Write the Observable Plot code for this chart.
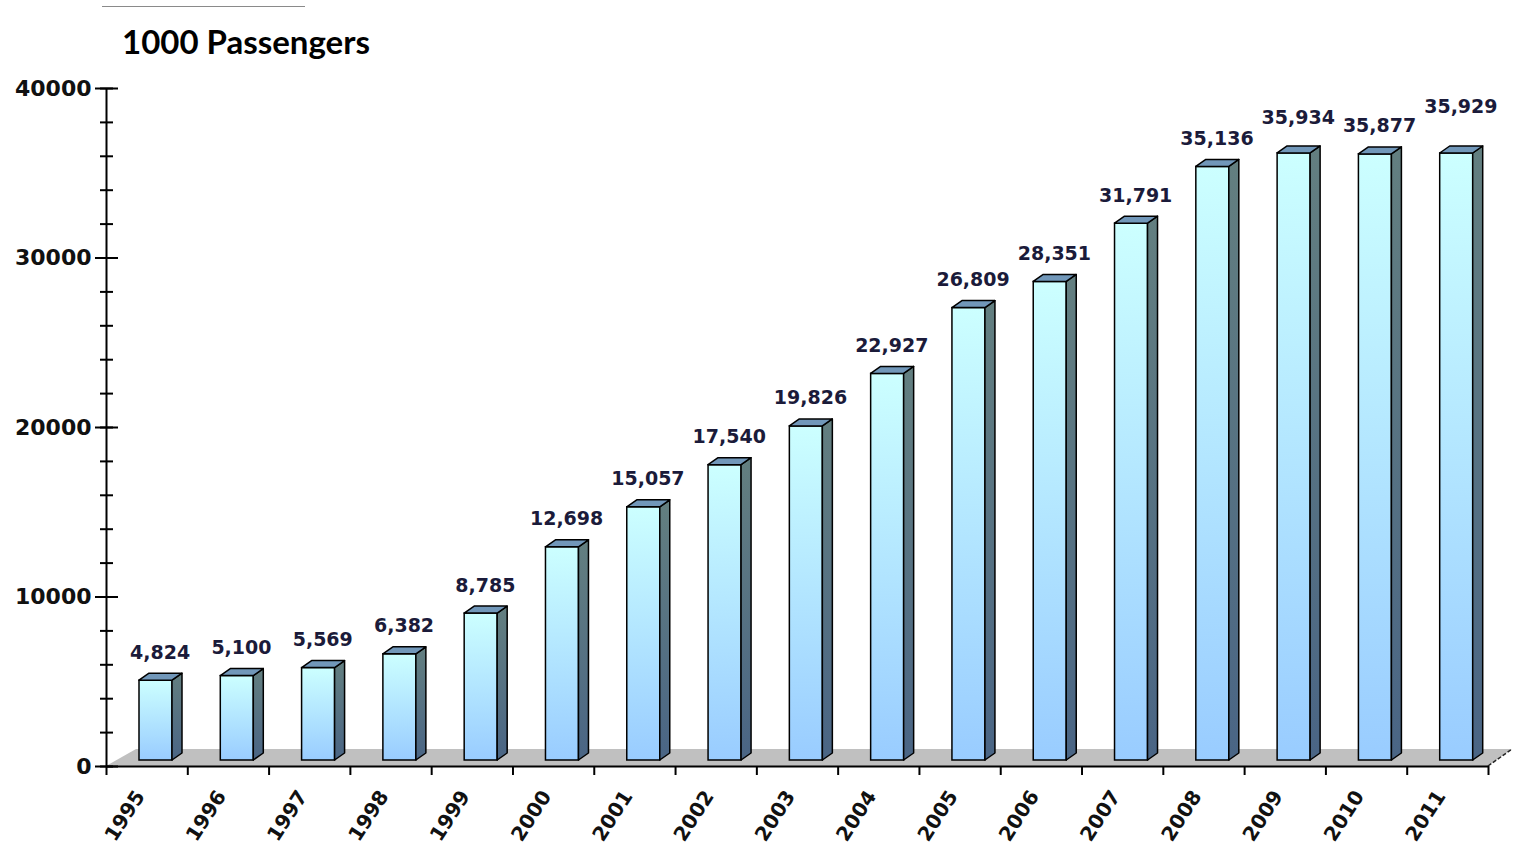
<!DOCTYPE html>
<html><head><meta charset="utf-8">
<script src="https://cdn.jsdelivr.net/npm/d3@7"></script>
<script src="https://cdn.jsdelivr.net/npm/@observablehq/plot@0.6"></script>
<style>
html,body{margin:0;padding:0;background:#fff;overflow:hidden;}
#hdr{position:relative;height:60px;width:1514px;}
#rule{position:absolute;left:102px;top:6px;width:203px;height:0;border-top:1.5px solid #8a8a8a;}
#title{position:absolute;left:122px;top:25px;font-family:Lato,sans-serif;font-weight:bold;font-size:33px;line-height:1;color:#000;white-space:nowrap;}
#chart svg text{font-family:"DejaVu Sans",sans-serif;font-weight:bold;}
</style></head>
<body>
<div id="hdr"><div id="rule"></div><div id="title">1000 Passengers</div></div>
<div id="chart"></div>
<script>
const years = ["1995","1996","1997","1998","1999","2000","2001","2002","2003","2004","2005","2006","2007","2008","2009","2010","2011"];
const passengers = [4824,5100,5569,6382,8785,12698,15057,17540,19826,22927,26809,28351,31791,35136,35934,35877,35929];
const yMajorTicks = [0,10000,20000,30000,40000];
const yMinorTicks = [0,2000,4000,6000,8000,10000,12000,14000,16000,18000,20000,22000,24000,26000,28000,30000,32000,34000,36000,38000,40000];
// labels that the original chart lifts to avoid overlapping neighbours
const liftedSmall = ["2009"];
const liftedLarge = ["2011"];

const data = years.map((year, i) => ({year, value: passengers[i]}));
const fmt = d3.format(",");

const W = 1514, H = 795, mL = 106, mR = 26, mT = 28, mB = 89;
const bw = (W - mL - mR) / years.length;
const FRONT_L = 33, FRONT_W = 33, DX = 10, DY = 7, LIFT = 6, RAISE = 4;
const FLOOR_DY = 17, FLOOR_DXL = 30, FLOOR_DXR = 24;
const NS = "http://www.w3.org/2000/svg";
function el(tag, attrs, parent) {
  const e = document.createElementNS(NS, tag);
  for (const k in attrs) e.setAttribute(k, attrs[k]);
  if (parent) parent.appendChild(e);
  return e;
}
function grad(defs, id, c1, c2) {
  const g = el("linearGradient", {id, x1: 0, y1: 0, x2: 0, y2: 1}, defs);
  el("stop", {offset: "0%", "stop-color": c1}, g);
  el("stop", {offset: "100%", "stop-color": c2}, g);
}
function defsMark() {
  const defs = el("defs", {});
  grad(defs, "frontGrad", "#ccffff", "#99ccff");
  grad(defs, "sideGrad", "#637f80", "#4a6585");
  return defs;
}
function floorMark(index, scales) {
  const y0 = scales.y(0);
  const xa = mL, xb = W - mR;
  const g = el("g", {});
  el("polygon", {points: `${xa},${y0} ${xb},${y0} ${xb + FLOOR_DXR},${y0 - FLOOR_DY} ${xa + FLOOR_DXL},${y0 - FLOOR_DY}`, fill: "#c0c0c0"}, g);
  el("line", {x1: xb, y1: y0, x2: xb + FLOOR_DXR, y2: y0 - FLOOR_DY, stroke: "#222", "stroke-width": 1.5, "stroke-dasharray": "4,2"}, g);
  return g;
}
function facesMark(index, scales) {
  const {x, y} = scales;
  const g = el("g", {stroke: "#000", "stroke-width": 1.5, "stroke-linejoin": "round"});
  for (const d of data) {
    const xl = x(d.year) + FRONT_L, xr = xl + FRONT_W;
    const yb = y(0) - LIFT, yt = y(d.value) - RAISE;
    el("polygon", {points: `${xr},${yt} ${xr + DX},${yt - DY} ${xr + DX},${yb - DY} ${xr},${yb}`, fill: "url(#sideGrad)"}, g);
    el("polygon", {points: `${xl},${yt} ${xr},${yt} ${xr + DX},${yt - DY} ${xl + DX},${yt - DY}`, fill: "#7197b9"}, g);
  }
  return g;
}
const labelOpts = {x: "year", y: "value", text: d => fmt(d.value), dx: 13, lineAnchor: "bottom",
  fontSize: 19, fontWeight: "bold", fill: "#1b1b3a"};
const isLifted = d => liftedSmall.includes(d.year) || liftedLarge.includes(d.year);

const chart = Plot.plot({
  width: W, height: H,
  marginLeft: mL, marginRight: mR, marginTop: mT, marginBottom: mB,
  style: {background: "#fff", color: "#000", overflow: "visible"},
  x: {type: "band", domain: years, padding: 0, round: false, label: null},
  y: {domain: [0, 40000], label: null},
  marks: [
    defsMark,
    floorMark,
    Plot.ruleY([0], {stroke: "#000", strokeWidth: 2}),
    Plot.ruleX([years[0]], {x: d => d, y1: -530, y2: 40000, dx: -bw / 2, stroke: "#000", strokeWidth: 2}),
    Plot.ruleX(years, {x: d => d, y1: -530, y2: 0, dx: bw / 2, stroke: "#000", strokeWidth: 2}),
    Plot.barY(data, {x: "year", y: "value", fill: "url(#frontGrad)", stroke: "#000", strokeWidth: 1.5,
      insetLeft: FRONT_L, insetRight: bw - FRONT_L - FRONT_W, insetBottom: LIFT - RAISE, dy: -RAISE}),
    facesMark,
    Plot.text(data.filter(d => !isLifted(d)), {...labelOpts, dy: -26}),
    Plot.text(data.filter(d => liftedSmall.includes(d.year)), {...labelOpts, dy: -33}),
    Plot.text(data.filter(d => liftedLarge.includes(d.year)), {...labelOpts, dy: -45}),
    Plot.axisY({ticks: yMinorTicks, tickSize: 13, dx: 7, tickFormat: () => "", strokeWidth: 2, label: null}),
    Plot.axisY({ticks: yMajorTicks, tickSize: 23, dx: 12, tickPadding: 4, tickFormat: d3.format("d"), strokeWidth: 2,
      fontSize: 22, fontWeight: "bold", fill: "#111", label: null}),
    Plot.axisX({tickSize: 0, tickPadding: 26, tickRotate: -57, dx: -7, fontSize: 20, fontWeight: "bold", fill: "#111", label: null})
  ]
});
document.getElementById("chart").appendChild(chart);
</script>
</body></html>
